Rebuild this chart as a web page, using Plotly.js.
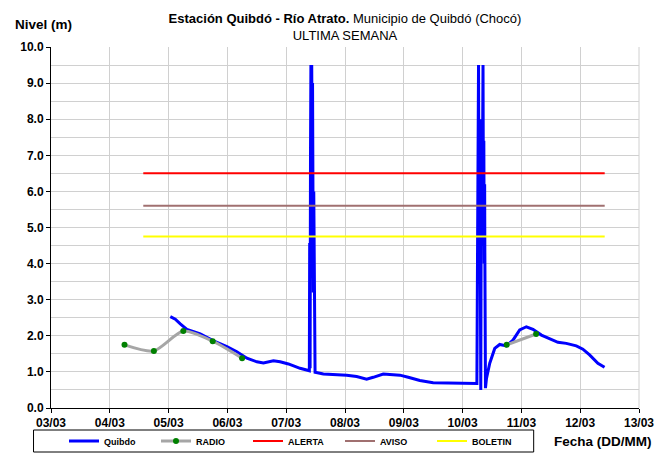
<!DOCTYPE html>
<html><head><meta charset="utf-8">
<script src="https://cdn.plot.ly/plotly-3.0.1.min.js"></script>
<style>html,body{margin:0;padding:0;background:#fff}#chart{width:662px;height:453px}</style>
</head><body><div id="chart"></div>
<script>
// ---- data ----
const quibdoTime = [
 "2024-03-05 00:42","2024-03-05 02:44","2024-03-05 04:46","2024-03-05 07:29","2024-03-05 12:55","2024-03-05 18:20","2024-03-05 23:48",
 "2024-03-06 03:52","2024-03-06 07:57","2024-03-06 12:01","2024-03-06 14:42","2024-03-06 18:47","2024-03-06 21:30",
 "2024-03-07 00:54","2024-03-07 05:40","2024-03-07 09:27",
 "2024-03-07 09:35","2024-03-07 09:45","2024-03-07 09:55","2024-03-07 10:05","2024-03-07 10:15","2024-03-07 10:25","2024-03-07 10:35",
 "2024-03-07 10:45","2024-03-07 10:55","2024-03-07 11:05","2024-03-07 11:15","2024-03-07 11:25","2024-03-07 11:35","2024-03-07 11:47",
 "2024-03-07 15:10","2024-03-07 19:14",
 "2024-03-08 00:42","2024-03-08 04:46","2024-03-08 08:50","2024-03-08 11:31","2024-03-08 15:36","2024-03-08 19:40","2024-03-08 22:24",
 "2024-03-09 01:48","2024-03-09 06:33","2024-03-09 11:59","2024-03-09 18:47",
 "2024-03-10 00:12","2024-03-10 04:16","2024-03-10 05:23","2024-03-10 05:50",
 "2024-03-10 06:00","2024-03-10 06:15","2024-03-10 06:30","2024-03-10 06:40","2024-03-10 06:55","2024-03-10 07:05","2024-03-10 07:15",
 "2024-03-10 07:25","2024-03-10 07:35","2024-03-10 07:45","2024-03-10 07:55","2024-03-10 08:05","2024-03-10 08:20","2024-03-10 08:30",
 "2024-03-10 08:40","2024-03-10 08:50","2024-03-10 09:00","2024-03-10 09:05","2024-03-10 09:20","2024-03-10 09:45",
 "2024-03-10 11:05","2024-03-10 13:07","2024-03-10 15:09","2024-03-10 17:53","2024-03-10 20:34","2024-03-10 23:18",
 "2024-03-11 02:02","2024-03-11 04:43","2024-03-11 08:10","2024-03-11 10:11","2024-03-11 12:53","2024-03-11 14:55","2024-03-11 18:20","2024-03-11 22:25",
 "2024-03-12 01:06","2024-03-12 03:50","2024-03-12 07:13","2024-03-12 09:56"
];
const quibdoLevel = [
 2.53,2.46,2.33,2.18,2.05,1.86,1.70,
 1.56,1.38,1.28,1.25,1.31,1.28,
 1.22,1.10,1.03,
 4.57,1.10,7.0,9.5,5.0,9.5,7.2,
 9.0,6.8,3.2,6.0,3.2,1.0,0.99,
 0.94,0.93,
 0.91,0.87,0.80,0.85,0.94,0.92,0.91,
 0.85,0.76,0.70,0.70,
 0.70,0.68,0.70,0.68,
 3.05,8.9,9.5,6.0,4.2,7.0,3.0,
 0.5,5.0,8.0,4.5,6.5,9.5,5.5,
 7.4,4.0,6.2,4.3,0.55,0.82,
 1.24,1.65,1.76,1.72,1.88,2.16,
 2.25,2.18,2.02,1.96,1.90,1.82,1.79,1.72,
 1.63,1.47,1.24,1.13
];
const radioTime = ["2024-03-04 06:00","2024-03-04 18:00","2024-03-05 06:00","2024-03-05 18:00","2024-03-06 06:00","2024-03-08 00:00","2024-03-10 18:00","2024-03-11 06:00"];
const radioLevel = [1.75,1.58,2.13,1.85,1.38,null,1.75,2.05];
const thresholdTime = ["2024-03-04 13:40","2024-03-12 10:00"];
const alertaLevel = 6.5;
const avisoLevel = 5.6;
const boletinLevel = 4.75;
const xTickDates = ["2024-03-03","2024-03-04","2024-03-05","2024-03-06","2024-03-07","2024-03-08","2024-03-09","2024-03-10","2024-03-11","2024-03-12","2024-03-13"];
const xTickLabels = ["03/03","04/03","05/03","06/03","07/03","08/03","09/03","10/03","11/03","12/03","13/03"];
const seriesNames = ["Quibdo","RADIO","ALERTA","AVISO","BOLETIN"];

// ---- chart ----
const FONT = "Liberation Sans, Arial, sans-serif";
const flat = (v) => thresholdTime.map(() => v);
const traces = [
  {x: quibdoTime, y: quibdoLevel, name: seriesNames[0], mode: "lines", line: {color: "#0000FF", width: 3}},
  {x: radioTime, y: radioLevel, name: seriesNames[1], mode: "lines+markers", connectgaps: false,
   line: {color: "#A6A6A6", width: 3, shape: "spline", smoothing: 0.7}, marker: {color: "#008000", size: 6}},
  {x: thresholdTime, y: flat(alertaLevel), name: seriesNames[2], mode: "lines", line: {color: "#FF0000", width: 2}},
  {x: thresholdTime, y: flat(avisoLevel), name: seriesNames[3], mode: "lines", line: {color: "#A07070", width: 2}},
  {x: thresholdTime, y: flat(boletinLevel), name: seriesNames[4], mode: "lines", line: {color: "#FFFF00", width: 2}}
];
const PL = 50.5, PR = 639.5, PT = 47, PB = 408, W = 662, H = 453;
const pw = PR - PL, ph = PB - PT;
const px = (x) => (x - PL) / pw;
const py = (y) => (PB - y) / ph;
const layout = {
  width: W, height: H,
  margin: {l: PL, r: W - PR, t: PT, b: H - PB, pad: 0, autoexpand: false},
  paper_bgcolor: "#FFFFFF", plot_bgcolor: "#FFFFFF",
  font: {family: FONT, color: "#000000", size: 12},
  hovermode: false,
  title: {text: "<b>Estación Quibdó - Río Atrato.</b> Municipio de Quibdó (Chocó)<br>ULTIMA SEMANA",
          x: 0.5, xref: "paper", xanchor: "center", y: 0.95, yref: "container", yanchor: "top",
          font: {family: FONT, size: 13, color: "#000000"}},
  xaxis: {type: "date", range: [xTickDates[0], xTickDates[xTickDates.length - 1]],
          tickmode: "array", tickvals: xTickDates, ticktext: xTickLabels,
          showgrid: true, gridcolor: "#D0D0D0", gridwidth: 1,
          showline: true, linecolor: "#000000", linewidth: 1, mirror: false,
          ticks: "outside", ticklen: 4, tickcolor: "#000000",
          tickfont: {family: FONT, size: 12, weight: "bold"}, zeroline: false, fixedrange: true},
  yaxis: {range: [0, 10], dtick: 1, tick0: 0, tickformat: ".1f",
          showgrid: true, gridcolor: "#D0D0D0", gridwidth: 1,
          minor: {dtick: 0.5, showgrid: true, gridcolor: "#D0D0D0", gridwidth: 1, ticks: ""},
          showline: true, linecolor: "#000000", linewidth: 1,
          ticks: "outside", ticklen: 4, tickcolor: "#000000",
          tickfont: {family: FONT, size: 12, weight: "bold"}, zeroline: false, fixedrange: true},
  showlegend: true,
  legend: {orientation: "h", xref: "container", yref: "container", x: 64 / W, xanchor: "left", y: 1 - 441 / H, yanchor: "middle",
           bgcolor: "rgba(0,0,0,0)", borderwidth: 0, entrywidth: 47, entrywidthmode: "pixels",
           font: {family: FONT, size: 9, weight: "bold"}, traceorder: "normal", itemclick: false},
  shapes: [
    {type: "rect", xref: "paper", yref: "paper", x0: px(33), x1: px(534), y0: py(452), y1: py(430),
     line: {color: "#000000", width: 1}, fillcolor: "rgba(0,0,0,0)"},
    {type: "line", xref: "paper", yref: "paper", x0: 1, x1: 1, y0: 0, y1: 1, line: {color: "#D0D0D0", width: 1}}
  ],
  annotations: [
    {text: "<b>Nivel (m)</b>", xref: "paper", yref: "paper", x: px(12), y: py(25), xanchor: "left", yanchor: "middle",
     showarrow: false, font: {family: FONT, size: 13.5}},
    {text: "<b>Fecha (DD/MM)</b>", xref: "paper", yref: "paper", x: px(655), y: py(441), xanchor: "right", yanchor: "middle",
     showarrow: false, font: {family: FONT, size: 13.5}}
  ]
};
Plotly.newPlot("chart", traces, layout, {displayModeBar: false, staticPlot: true});
</script>
</body></html>
